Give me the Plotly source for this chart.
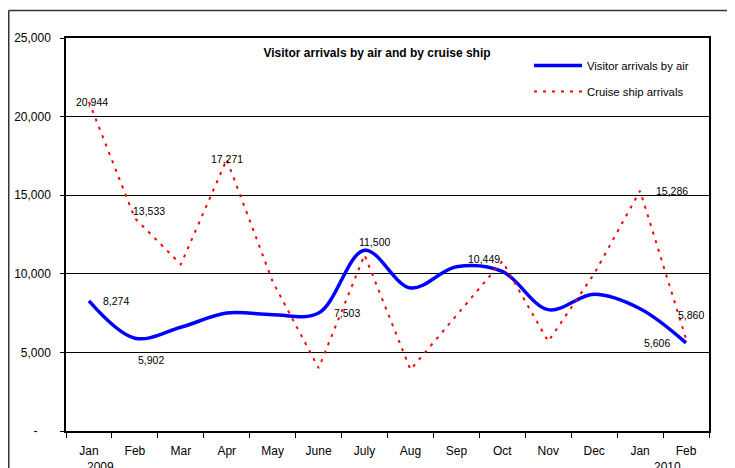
import plotly.graph_objects as go

# ---- data ----
months = ["Jan", "Feb", "Mar", "Apr", "May", "June", "July", "Aug", "Sep", "Oct", "Nov", "Dec", "Jan", "Feb"]
years = ["2009", "", "", "", "", "", "", "", "", "", "", "", "", "2010"]
air = [8274, 5902, 6600, 7500, 7400, 7503, 11500, 9100, 10449, 10150, 7720, 8700, 7780, 5606]
cruise = [20944, 13533, 10600, 17271, 9500, 4000, 11200, 3900, 7350, 10800, 5700, 10000, 15286, 5860]
y_ticks = [0, 5000, 10000, 15000, 20000, 25000]
y_ticktext = ["-\u00a0\u00a0\u00a0\u00a0", "5,000", "10,000", "15,000", "20,000", "25,000"]

# labelled points: (index, xshift, yshift, xanchor)
air_labels = [(0, 12, 0, "left"), (1, 16, -22, "center"), (5, 13, 0, "left"),
              (6, 10, 8, "center"), (8, 28, 8, "center"), (13, -14, 0, "right")]
cruise_labels = [(0, 3, 0, "center"), (1, 14, 7, "center"), (3, 0, 1, "center"),
                 (12, 14, 0, "left"), (13, 5, 24, "center")]

FONT = "Liberation Sans, Arial, sans-serif"
# the page body has an 8px margin, so the figure is drawn 8px in from the window corner
W, H = 727, 460
ML, MR, MT, MB = 58, 26, 30, 37

x = list(range(len(months)))

fig = go.Figure()
fig.add_trace(go.Scatter(
    x=x, y=air, mode="lines", name="Visitor arrivals by air",
    line=dict(color="#0000FF", width=3.5, shape="spline", smoothing=1.0),
    legendgroup="a",
))
fig.add_trace(go.Scatter(
    x=x, y=cruise, mode="lines", name="Cruise ship arrivals",
    line=dict(color="#FF0000", width=2, dash="3px,6px"),
    legendgroup="b",
))

ann = []
for i, xs, ys, xa in air_labels:
    ann.append(dict(x=i, y=air[i], xref="x", yref="y", text=f"{air[i]:,}", showarrow=False,
                    xshift=xs, yshift=ys, xanchor=xa, yanchor="middle",
                    font=dict(family=FONT, size=10.5, color="#000")))
for i, xs, ys, xa in cruise_labels:
    ann.append(dict(x=i, y=cruise[i], xref="x", yref="y", text=f"{cruise[i]:,}", showarrow=False,
                    xshift=xs, yshift=ys, xanchor=xa, yanchor="middle",
                    font=dict(family=FONT, size=10.5, color="#000")))
# year labels under the month ticks
year_shift = {0: 12, 13: -19}
for i, yr in enumerate(years):
    if yr:
        ann.append(dict(x=i, y=0, xref="x", yref="paper", text=yr, showarrow=False,
                        xshift=year_shift.get(i, 0), yshift=-35.5, yanchor="middle",
                        font=dict(family=FONT, size=12, color="#000")))

pw = W - ML - MR
ph = H - MT - MB
def px_x(p):
    return (p - ML) / pw
def px_y(p):
    return (H - MB - p) / ph

shapes = [
    dict(type="line", xref="paper", yref="paper", x0=px_x(0.75), x1=px_x(W + 2), y0=px_y(2.5), y1=px_y(2.5),
         line=dict(color="#333", width=1.5)),
    dict(type="line", xref="paper", yref="paper", x0=px_x(0.75), x1=px_x(0.75), y0=px_y(2.5), y1=px_y(H + 2),
         line=dict(color="#333", width=1.5)),
]

fig.update_layout(
    width=W, height=H,
    margin=dict(l=ML, r=MR, t=MT, b=MB, autoexpand=False),
    paper_bgcolor="white", plot_bgcolor="white",
    font=dict(family=FONT, size=12, color="#000"),
    title=dict(text="<b>Visitor arrivals by air and by cruise ship</b>",
               x=369 / W, xanchor="center", y=1 - 45 / H, yanchor="middle",
               font=dict(family=FONT, size=12, color="#000")),
    showlegend=True,
    legend=dict(x=px_x(521), xanchor="left", y=px_y(43), yanchor="top",
                bgcolor="rgba(0,0,0,0)", borderwidth=0,
                font=dict(family=FONT, size=11.3, color="#000"),
                tracegroupgap=7, traceorder="grouped", itemwidth=48),
    xaxis=dict(range=[-0.5, len(months) - 0.5], tickmode="array", tickvals=x, ticktext=months,
               ticks="", showgrid=False, zeroline=False, automargin=False,
               showline=True, linecolor="#000", linewidth=1.5, mirror=True,
               tickfont=dict(family=FONT, size=12, color="#000"), ticklabelstandoff=8,
               minor=dict(tickmode="array", tickvals=[v - 0.5 for v in range(len(months) + 1)],
                          ticks="outside", ticklen=5, tickcolor="#000", tickwidth=1, showgrid=False)),
    yaxis=dict(range=[0, 25000], tickmode="array", tickvals=y_ticks, ticktext=y_ticktext,
               ticks="outside", ticklen=4, tickcolor="#000", automargin=False,
               showgrid=True, gridcolor="#000", gridwidth=1, zeroline=False,
               showline=True, linecolor="#000", linewidth=1.5, mirror=True,
               tickfont=dict(family=FONT, size=12, color="#000"), ticklabelstandoff=7),
    annotations=ann,
    shapes=shapes,
)

fig.write_html("out.html")
